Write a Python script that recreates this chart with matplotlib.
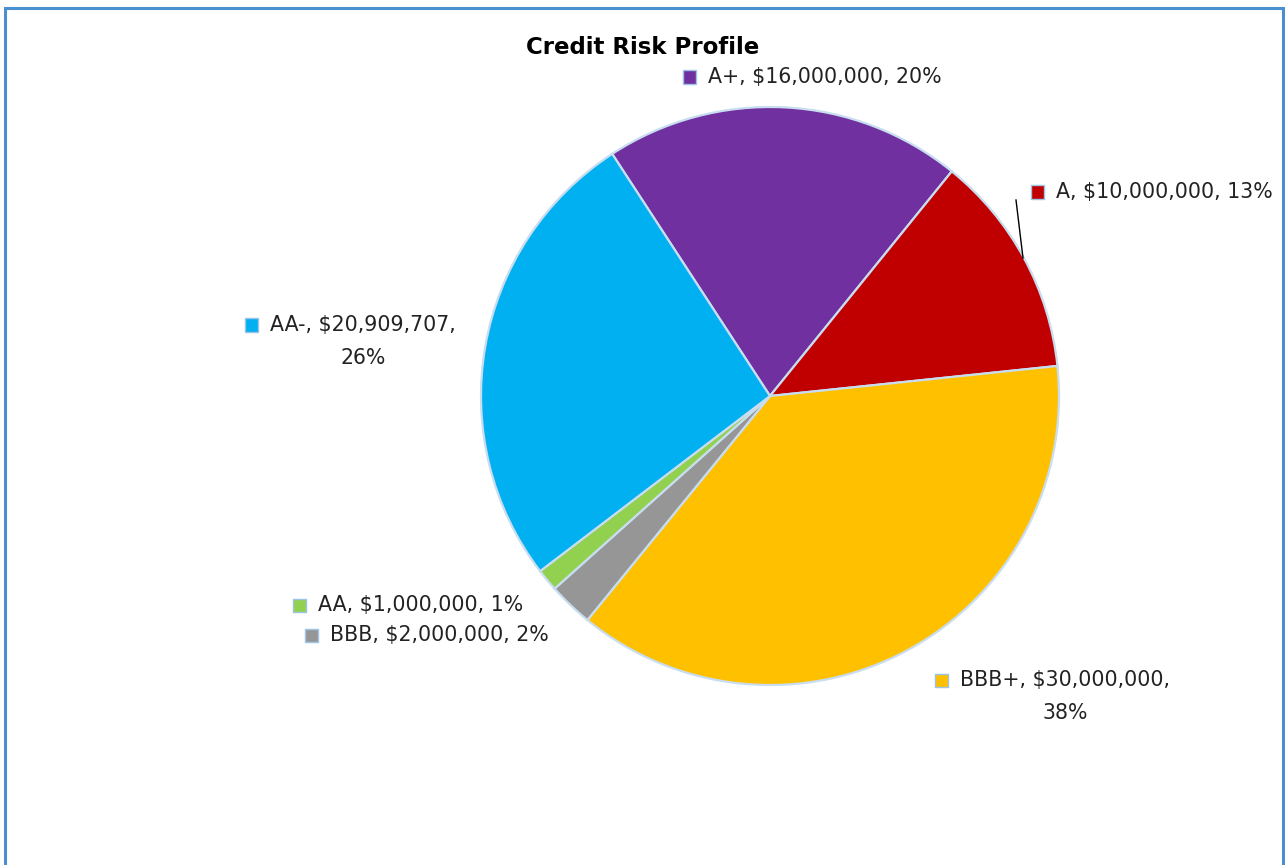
import matplotlib
matplotlib.use("Agg")
import matplotlib.pyplot as plt
from matplotlib.patches import Rectangle
from matplotlib.lines import Line2D

# data, in clockwise drawing order
ratings = ["A+", "A", "BBB+", "BBB", "AA", "AA-"]
amounts = [16000000, 10000000, 30000000, 2000000, 1000000, 20909707]
pct_labels = ["20%", "13%", "38%", "2%", "1%", "26%"]
colors = ["#7030A0", "#C00000", "#FFC000", "#969696", "#92D050", "#00B0F0"]

W, H = 1285, 865
fig = plt.figure(figsize=(W / 100, H / 100), dpi=100)
plt.rcParams['font.family'] = ['DejaVu Sans']
FS = 14.8


def fx(px):
    return px / W


def fy(py):
    return 1 - py / H


# chart frame
fig.patches.append(Rectangle((fx(5), fy(H + 20)), fx(1278), fy(8) - fy(H + 20),
                             transform=fig.transFigure, fill=False,
                             edgecolor="#4A90D0", lw=2.2))

# pie axes: center (770, 396), radius 289 px
cx, cy, r = 770, 396, 289
ax = fig.add_axes([fx(cx - r), fy(cy + r), fx(2 * r), fy(cy - r) - fy(cy + r)])
ax.pie(amounts, colors=colors, startangle=123.1, counterclock=False,
       wedgeprops=dict(edgecolor="#C9DDF0", linewidth=1.6))
ax.set_xlim(-1, 1)
ax.set_ylim(-1, 1)
ax.axis('off')

fig.text(fx(643), fy(47), "Credit Risk Profile", ha='center', va='center',
         fontsize=16.5, fontweight='bold', color='black')

# label layout: square position (px), wrapped?
layout = {
    "A+": (689, 77, False),
    "A": (1037, 192, False),
    "BBB+": (941, 680, True),
    "BBB": (311, 635, False),
    "AA": (299, 605, False),
    "AA-": (251, 325, True),
}

for name, val, pct, col in zip(ratings, amounts, pct_labels, colors):
    sx, sy, wrap = layout[name]
    fig.patches.append(Rectangle((fx(sx - 6.5), fy(sy + 6.5)), fx(13), fy(sy - 6.5) - fy(sy + 6.5),
                                 transform=fig.transFigure, facecolor=col,
                                 edgecolor="#9DC3E6", lw=1))
    if wrap:
        t = fig.text(fx(sx + 19), fy(sy), f"{name}, ${val:,},", ha='left', va='center',
                     fontsize=FS, color='#222222')
        fig.canvas.draw()
        bb = t.get_window_extent()
        mid = (bb.x0 + bb.x1) / 2
        fig.text(mid / W, fy(sy + 33), pct, ha='center', va='center',
                 fontsize=FS, color='#222222')
    else:
        fig.text(fx(sx + 19), fy(sy), f"{name}, ${val:,}, {pct}", ha='left', va='center',
                 fontsize=FS, color='#222222')

# leader line for A
fig.lines.append(Line2D([fx(1016), fx(1023)], [fy(200), fy(258)],
                        transform=fig.transFigure, color='black', lw=1))

fig.savefig("out.png", dpi=100, facecolor='white')
